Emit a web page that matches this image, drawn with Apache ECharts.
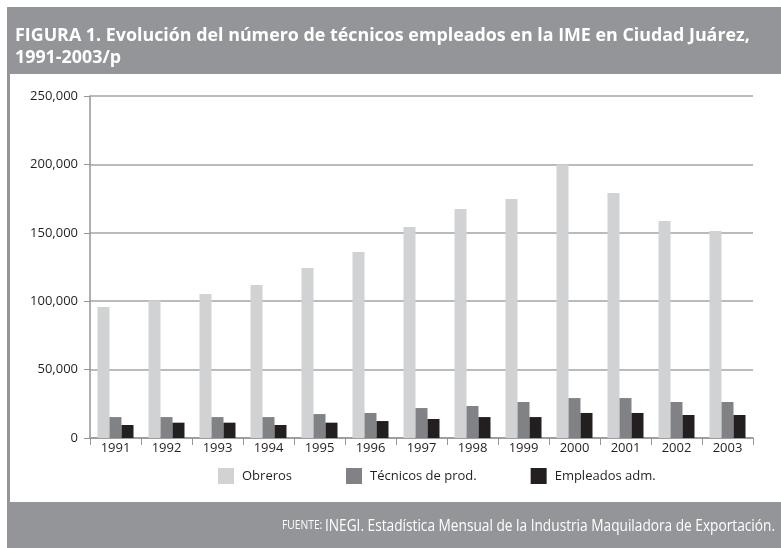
<!DOCTYPE html>
<html>
<head>
<meta charset="utf-8">
<script src="https://cdn.jsdelivr.net/npm/echarts@6/dist/echarts.min.js"></script>
<style>
  html, body { margin: 0; padding: 0; background: #fff; }
  #grafica { width: 781px; height: 548px; }
</style>
</head>
<body>
<div id="grafica"></div>
<script>
var anios = ['1991', '1992', '1993', '1994', '1995', '1996', '1997', '1998', '1999', '2000', '2001', '2002', '2003'];
var obreros = [95800, 100600, 105300, 111800, 124300, 136000, 154200, 167400, 174700, 200000, 179100, 158600, 151300];
var tecnicos = [15300, 15300, 15300, 15300, 17500, 18300, 21900, 23400, 26300, 29200, 29200, 26300, 26300];
var administrativos = [9500, 11200, 11200, 9500, 11200, 12400, 13900, 15300, 15300, 18300, 18300, 16800, 16800];
var nombres = ['Obreros', 'Técnicos de prod.', 'Empleados adm.'];

var gris = '#939598';
var fuente = '"Open Sans", "Noto Sans", sans-serif';

var myChart = echarts.init(document.getElementById('grafica'));

var option = {
    animation: false,
    color: ['#d1d2d4', '#808285', '#231f20'],
    textStyle: { fontFamily: fuente },
    graphic: [
        { type: 'rect', shape: { x: 7, y: 7, width: 774, height: 67 }, style: { fill: gris } },
        { type: 'rect', shape: { x: 7, y: 74, width: 3, height: 428 }, style: { fill: gris } },
        { type: 'rect', shape: { x: 7, y: 502, width: 774, height: 46 }, style: { fill: gris } },
        {
            // titulo
            type: 'text', x: 15, y: 25, scaleX: 1.05,
            style: {
                text: 'FIGURA 1. Evolución del número de técnicos empleados en la IME en Ciudad Juárez,\n1991-2003/p',
                fill: '#fff',
                font: 'bold 17px "Open Sans", sans-serif',
                lineHeight: 22
            }
        },
        {
            // fuente, letra un poco condensada
            type: 'text', x: 775, y: 526, scaleX: 0.855,
            style: {
                text: '{a|FUENTE: }{b|INEGI. Estadística Mensual de la Industria Maquiladora de Exportación.}',
                align: 'right',
                verticalAlign: 'middle',
                rich: {
                    a: { fill: '#fff', fontSize: 12, fontFamily: fuente },
                    b: { fill: '#fff', fontSize: 16, fontFamily: fuente }
                }
            }
        }
    ],
    legend: {
        data: nombres,
        left: 218,
        top: 468,
        padding: 0,
        icon: 'rect',
        itemWidth: 16,
        itemHeight: 16,
        itemGap: 54,
        textStyle: { fontSize: 13, color: '#231f20', padding: [0, 0, 0, 3] }
    },
    grid: { left: 90, right: 28, top: 96, bottom: 110 },
    xAxis: {
        type: 'category',
        data: anios,
        axisLine: { lineStyle: { color: gris, width: 1.5 } },
        axisTick: { show: true, length: 7, lineStyle: { color: gris } },
        axisLabel: { fontSize: 13, color: '#231f20', margin: 4 }
    },
    yAxis: {
        type: 'value',
        min: 0,
        max: 250000,
        interval: 50000,
        axisLine: { show: true, lineStyle: { color: gris, width: 1.5 } },
        axisTick: { show: true, length: 6, lineStyle: { color: gris } },
        axisLabel: {
            fontSize: 13, color: '#231f20', margin: 12,
            formatter: function (v) { return v.toLocaleString('en-US'); }
        },
        splitLine: { lineStyle: { color: '#a2a4a7', width: 1.5 } }
    },
    series: [
        { name: nombres[0], type: 'bar', data: obreros, barWidth: 12, barGap: '0%' },
        { name: nombres[1], type: 'bar', data: tecnicos, barWidth: 12, barGap: '0%' },
        { name: nombres[2], type: 'bar', data: administrativos, barWidth: 12, barGap: '0%' }
    ]
};

myChart.setOption(option);
</script>
</body>
</html>
